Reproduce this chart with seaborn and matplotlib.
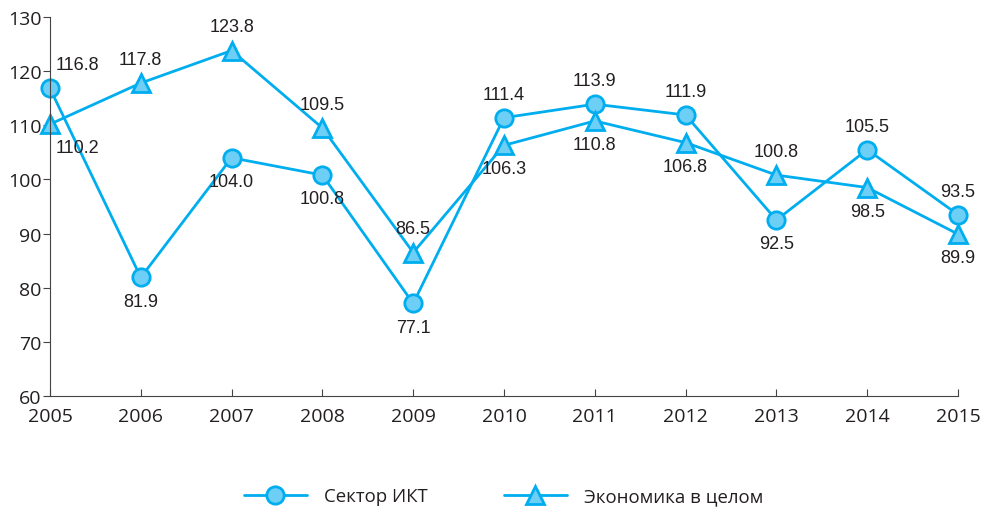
import pandas as pd
import matplotlib.pyplot as plt
import seaborn as sns

years = [2005, 2006, 2007, 2008, 2009, 2010, 2011, 2012, 2013, 2014, 2015]
ict = [116.8, 81.9, 104.0, 100.8, 77.1, 111.4, 113.9, 111.9, 92.5, 105.5, 93.5]
economy = [110.2, 117.8, 123.8, 109.5, 86.5, 106.3, 110.8, 106.8, 100.8, 98.5, 89.9]
# label placement: 1 = above, -1 = below
ict_pos = [1, -1, -1, -1, -1, 1, 1, 1, -1, 1, 1]
eco_pos = [-1, 1, 1, 1, 1, -1, -1, -1, 1, -1, -1]

sns.set_style("ticks")
plt.rcParams['font.family'] = ['Open Sans', 'DejaVu Sans']

line_c = '#00AEEF'
fill_c = '#6DCFF6'
text_c = '#231F20'

df = pd.DataFrame({'year': years * 2,
                   'value': ict + economy,
                   'series': ['Сектор ИКТ'] * 11 + ['Экономика в целом'] * 11})

fig = plt.figure(figsize=(9.81, 5.10), dpi=100)
ax = fig.add_axes([50 / 981, 1 - 397 / 510, 908 / 981, 379 / 510])

sns.lineplot(data=df, x='year', y='value', style='series', markers=['o', '^'],
             dashes=False, color=line_c, linewidth=2, markersize=12.5,
             markerfacecolor=fill_c, markeredgecolor=line_c, markeredgewidth=2,
             ax=ax, clip_on=False)

for vals, pos in [(ict, ict_pos), (economy, eco_pos)]:
    for i, (x, v, p) in enumerate(zip(years, vals, pos)):
        dx = 20 if i == 0 else 0
        ax.annotate(f'{v:.1f}', (x, v), xytext=(dx, 17 * p), textcoords='offset points',
                    ha='center', va='center', fontsize=13, color=text_c,
                    family=['Liberation Sans', 'DejaVu Sans'])

ax.set_xlim(2005, 2015)
ax.set_ylim(60, 130)
ax.set_xticks(years)
ax.set_yticks(range(60, 131, 10))
ax.tick_params(axis='x', direction='in', length=5, labelsize=14, pad=8,
               color='#444444', labelcolor=text_c)
ax.tick_params(axis='y', direction='out', length=5, labelsize=14, pad=1,
               color='#444444', labelcolor=text_c)
sns.despine(ax=ax)
ax.spines['left'].set_color('#444444')
ax.spines['bottom'].set_color('#444444')
ax.set_xlabel('')
ax.set_ylabel('')

leg = ax.legend(loc='center', bbox_to_anchor=(0.4994, -0.265), ncol=2, frameon=False,
                handlelength=3.4, columnspacing=4.1, handletextpad=0.9,
                prop={'family': 'Open Sans', 'size': 13.4})
for t in leg.get_texts():
    t.set_color(text_c)

fig.savefig('out.png', dpi=100)
